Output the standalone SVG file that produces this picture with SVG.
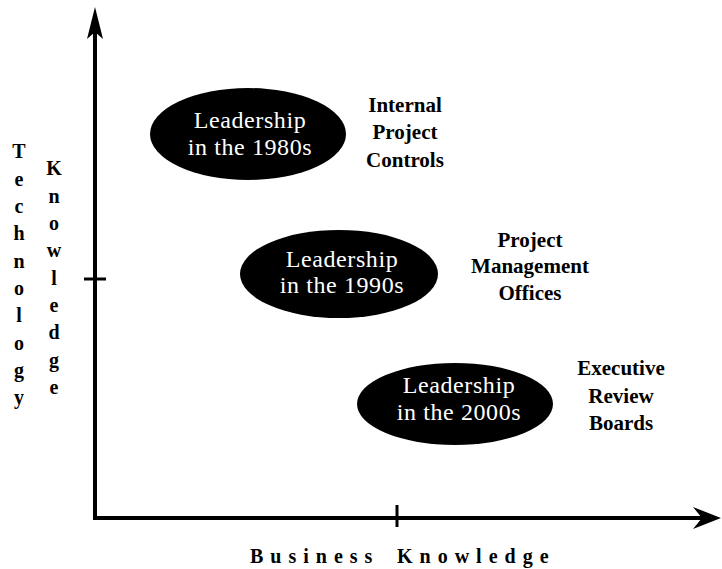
<svg xmlns="http://www.w3.org/2000/svg" width="722" height="569" viewBox="0 0 722 569">
<style>
.bg{fill:#ffffff}
.axis{stroke:#000;stroke-width:4;fill:none}
.tick{stroke:#000;stroke-width:3;fill:none}
.head{fill:#000}
.blob{fill:#000}
text{font-family:'Liberation Serif','DejaVu Serif',serif}
.in{font-size:24px;fill:#fff;text-anchor:middle;letter-spacing:0.6px}
.lab{font-size:21px;font-weight:bold;fill:#000;text-anchor:middle}
.ax{font-size:20px;font-weight:bold;fill:#000;text-anchor:middle}
.axh{font-size:20px;font-weight:bold;fill:#000;letter-spacing:7px}
</style>
<rect class="bg" x="0" y="0" width="722" height="569"/>
<g id="connectors">
  <line class="axis" x1="95" y1="520" x2="95" y2="30"/>
  <polygon class="head" points="95,7 103,39 95,32 87,39"/>
  <line class="axis" x1="93" y1="518" x2="705" y2="518"/>
  <polygon class="head" points="721,518 693,529 702,518 693,507"/>
  <line class="tick" x1="84" y1="279" x2="106" y2="279"/>
  <line class="tick" x1="397" y1="505" x2="397" y2="527"/>
</g>
<g id="axis-y-label">
  <text class="ax" x="19" y="158">T</text>
  <text class="ax" x="19" y="186">e</text>
  <text class="ax" x="19" y="213">c</text>
  <text class="ax" x="19" y="240">h</text>
  <text class="ax" x="19" y="268">n</text>
  <text class="ax" x="19" y="295">o</text>
  <text class="ax" x="19" y="322">l</text>
  <text class="ax" x="19" y="350">o</text>
  <text class="ax" x="19" y="377">g</text>
  <text class="ax" x="19" y="404">y</text>
  <text class="ax" x="54" y="175">K</text>
  <text class="ax" x="54" y="203">n</text>
  <text class="ax" x="54" y="230">o</text>
  <text class="ax" x="54" y="257">w</text>
  <text class="ax" x="54" y="285">l</text>
  <text class="ax" x="54" y="312">e</text>
  <text class="ax" x="54" y="339">d</text>
  <text class="ax" x="54" y="367">g</text>
  <text class="ax" x="54" y="394">e</text>
</g>
<g id="axis-x-label">
  <text class="axh" x="250" y="563">Business <tspan x="397">Knowledge</tspan></text>
</g>
<g id="node-1980s">
  <ellipse class="blob" cx="248" cy="134" rx="98" ry="46"/>
  <text class="in" x="250" y="128">Leadership</text>
  <text class="in" x="250" y="155">in the 1980s</text>
</g>
<g id="label-1980s">
  <text class="lab" x="405" y="112">Internal</text>
  <text class="lab" x="405" y="139">Project</text>
  <text class="lab" x="405" y="167">Controls</text>
</g>
<g id="node-1990s">
  <ellipse class="blob" cx="339" cy="274" rx="99" ry="44"/>
  <text class="in" x="342" y="267">Leadership</text>
  <text class="in" x="342" y="293">in the 1990s</text>
</g>
<g id="label-1990s">
  <text class="lab" x="530" y="247">Project</text>
  <text class="lab" x="530" y="273">Management</text>
  <text class="lab" x="530" y="300">Offices</text>
</g>
<g id="node-2000s">
  <ellipse class="blob" cx="455" cy="404" rx="98" ry="41"/>
  <text class="in" x="459" y="393">Leadership</text>
  <text class="in" x="459" y="420">in the 2000s</text>
</g>
<g id="label-2000s">
  <text class="lab" x="621" y="375">Executive</text>
  <text class="lab" x="621" y="403">Review</text>
  <text class="lab" x="621" y="430">Boards</text>
</g>
</svg>
